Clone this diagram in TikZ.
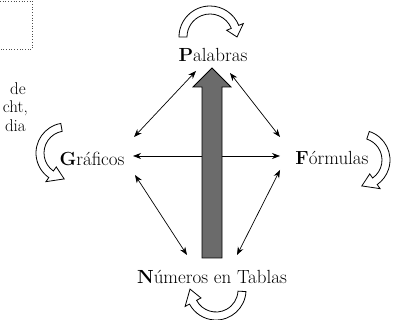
\documentclass[tikz,border=0pt]{standalone}
\usepackage{tikz}
\usetikzlibrary{arrows.meta,calc}

\newcommand{\bendarrow}[5]{%
  \draw[turn] ([shift={(#1)}]#3:#2+4) arc[start angle=#3,end angle=#4,radius=#2+4]
    -- ([shift={(#1)}]#4:#2+9) -- ([shift={(#1)}]#5:#2)
    -- ([shift={(#1)}]#4:#2-9) -- ([shift={(#1)}]#4:#2-4)
    arc[start angle=#4,end angle=#3,radius=#2-4] -- cycle;}

\begin{document}
\begin{tikzpicture}[
  x=1pt,y=1pt,
  font=\fontsize{19}{22}\selectfont,
  lbl/.style={inner sep=1pt},
  frag/.style={inner sep=0pt,anchor=base east,font=\fontsize{17}{20}\selectfont},
  link/.style={{Stealth[length=8pt,width=6pt]}-{Stealth[length=8pt,width=6pt]},
               line width=0.7pt},
  turn/.style={draw,line width=0.8pt,fill=white},
  flow/.style={draw,line width=0.8pt,fill=black!58}
]
\useasboundingbox (0,0) rectangle (393,320);

\draw[dotted,black!70,line width=0.7pt] (0,319) -- (32,319) -- (32,271) -- (0,271);
\node[frag] (w1) at (26,225) {de};
\node[frag] (w2) at (28,207) {cht,};
\node[frag] (w3) at (26,188) {dia};

\node[lbl] (pal)  at (213,265) {\textbf{P}alabras};
\node[lbl] (graf) at (92,161)  {\textbf{G}ráficos};
\node[lbl] (form) at (332,162) {\textbf{F}órmulas};
\node[lbl] (num)  at (212,43)  {\textbf{N}úmeros en Tablas};

\draw[link] ([shift={(42,22)}]graf.center)  -- ([shift={(-17,-16)}]pal.center);
\draw[link] ([shift={(17,-18)}]pal.center)  -- ([shift={(-52,21)}]form.center);
\draw[link] ([shift={(41,3)}]graf.center)   -- ([shift={(-52,2)}]form.center);
\draw[link] ([shift={(43,-16)}]graf.center) -- ([shift={(-25,22)}]num.center);
\draw[link] ([shift={(-52,-12)}]form.center) -- ([shift={(25,22)}]num.center);

\draw[flow] (202,62) -- (202,233) -- (193,233) -- (212,252)
  -- (231,233) -- (222,233) -- (222,62) -- cycle;

\bendarrow{210,283}{27}{180}{22}{0}
\bendarrow{66,167}{26}{100}{235}{266}
\bendarrow{360,160}{26}{72}{-55}{-86}
\bendarrow{216,30}{26}{-3}{-152}{-182}
\end{tikzpicture}
\end{document}
